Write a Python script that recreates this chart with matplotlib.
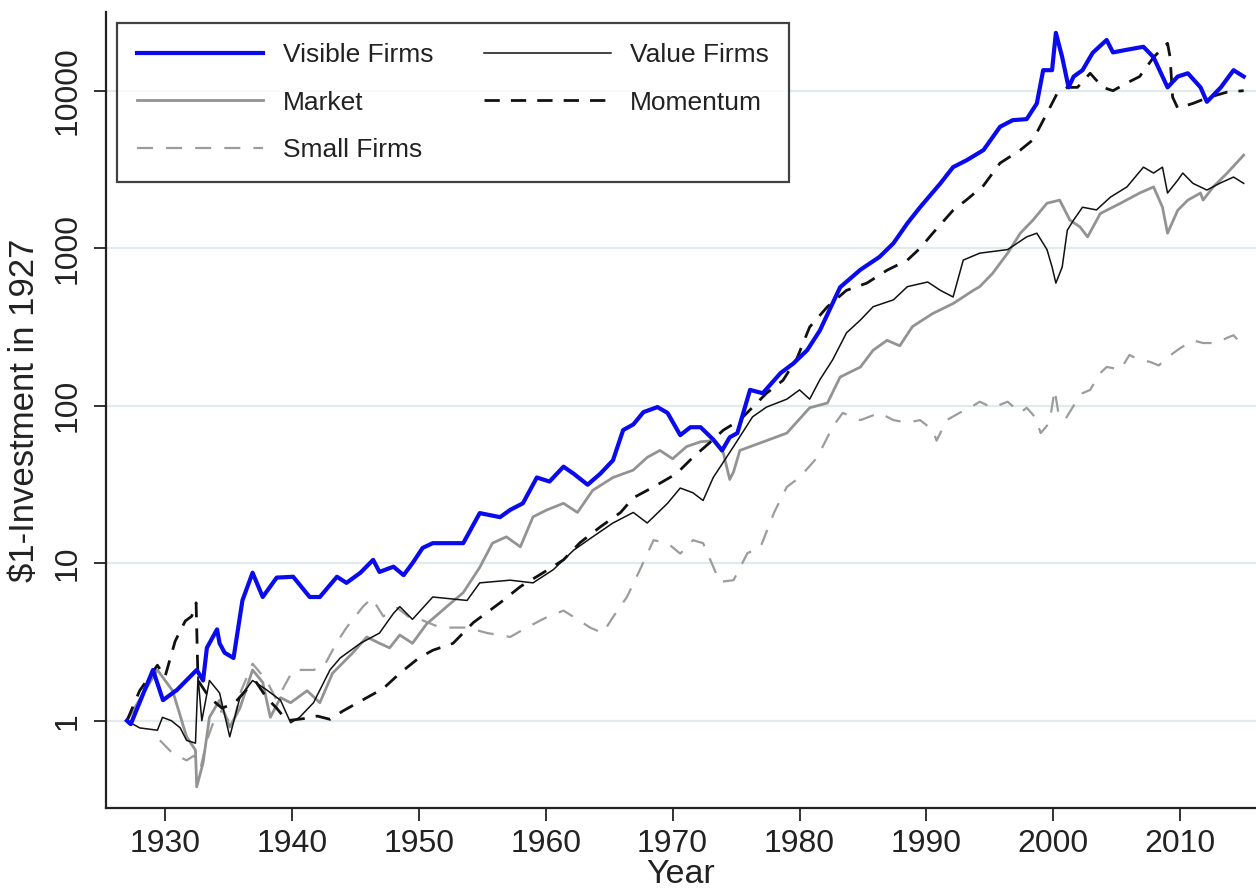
import matplotlib
matplotlib.use("Agg")
import matplotlib.pyplot as plt
import numpy as np

plt.rcParams['font.family'] = ['Liberation Sans', 'DejaVu Sans']

# ---------------- data ----------------
visible_years = [1927.0, 1927.3, 1929.05, 1929.84, 1930.95, 1932.5, 1933.0, 1933.3, 1934.1, 1934.3,
                 1934.7, 1935.4, 1936.1, 1936.9, 1937.7, 1938.8, 1940.1, 1941.4, 1942.2, 1943.55,
                 1944.3, 1945.4, 1946.4, 1946.9, 1948.0, 1948.8, 1949.5, 1950.3, 1951.1, 1952.5,
                 1953.5, 1954.8, 1956.4, 1957.2, 1958.2, 1959.3, 1960.3, 1961.4, 1962.2, 1963.3,
                 1964.3, 1965.3, 1966.1, 1966.9, 1967.7, 1968.8, 1969.6, 1970.6, 1971.4, 1972.2,
                 1973.2, 1973.9, 1974.5, 1975.1, 1976.1, 1977.1, 1978.5, 1979.5, 1980.6, 1981.6,
                 1983.2, 1984.8, 1986.3, 1987.4, 1988.5, 1989.5, 1991.1, 1992.1, 1993.2, 1994.5,
                 1995.8, 1996.8, 1997.9, 1998.7, 1999.2, 1999.9, 2000.2, 2000.7, 2001.2, 2001.6,
                 2002.3, 2003.1, 2004.2, 2004.7, 2005.8, 2007.1, 2007.9, 2009.0, 2009.8, 2010.6,
                 2011.6, 2012.1, 2013.2, 2014.2, 2015.0]
visible_vals = [1.0, 0.95, 2.1, 1.35, 1.57, 2.1, 1.8, 2.9, 3.8, 3.1,
                2.7, 2.5, 5.8, 8.7, 6.1, 8.1, 8.2, 6.1, 6.1, 8.2,
                7.5, 8.7, 10.5, 8.8, 9.5, 8.4, 10.0, 12.5, 13.4, 13.4,
                13.4, 20.8, 19.6, 21.8, 24, 35, 33, 41, 37, 31.5,
                37, 45, 70, 76, 91, 98, 90, 65, 73, 73,
                61, 52, 63, 67, 126, 120, 161, 185, 225, 300,
                565, 730, 880, 1075, 1440, 1820, 2580, 3270, 3630, 4200,
                5900, 6500, 6600, 8300, 13500, 13500, 23300, 16300, 10500, 12300,
                13500, 17400, 21000, 17500, 18200, 19000, 16300, 10500, 12300, 12900,
                10500, 8500, 10500, 13500, 12300]

market_years = [1927.0, 1929.4, 1930.6, 1931.7, 1932.4, 1932.5, 1933.0, 1933.5, 1934.3, 1935.1,
                1935.9, 1936.9, 1937.7, 1938.3, 1939.1, 1939.9, 1941.2, 1942.2, 1943.2, 1944.8,
                1945.9, 1946.9, 1947.7, 1948.5, 1949.5, 1950.6, 1952.2, 1953.5, 1954.8, 1955.8,
                1956.9, 1958.0, 1959.0, 1960.1, 1961.4, 1962.5, 1963.7, 1965.3, 1966.9, 1968.0,
                1969.0, 1970.0, 1971.1, 1972.2, 1973.2, 1974.0, 1974.5, 1974.8, 1975.3, 1977.4,
                1979.0, 1980.8, 1982.2, 1983.2, 1984.8, 1985.8, 1986.9, 1987.9, 1988.9, 1990.5,
                1992.1, 1993.7, 1994.2, 1995.2, 1996.4, 1997.4, 1998.4, 1999.5, 2000.5, 2001.3,
                2002.1, 2002.7, 2003.7, 2005.3, 2006.8, 2007.9, 2008.6, 2009.0, 2009.8, 2010.6,
                2011.6, 2011.8, 2012.6, 2013.7, 2015.0]
market_vals = [1.0, 2.1, 1.55, 0.79, 0.65, 0.38, 0.54, 1.05, 1.35, 0.91,
               1.2, 2.1, 1.75, 1.05, 1.4, 1.3, 1.55, 1.3, 2.0, 2.7,
               3.4, 3.1, 2.9, 3.5, 3.1, 4.1, 5.3, 6.5, 9.4, 13.4,
               14.7, 12.7, 19.7, 21.8, 24, 21, 29, 35, 39, 47,
               52, 46, 55, 59, 60, 50, 34, 38, 52, 60,
               67, 97, 104, 152, 176, 225, 260, 240, 318, 385,
               445, 540, 570, 690, 930, 1245, 1510, 1930, 2020, 1510,
               1365, 1180, 1660, 1930, 2240, 2450, 1820, 1245, 1740, 2020,
               2240, 2020, 2450, 3000, 3900]

small_years = [1929.6, 1930.6, 1931.7, 1932.3, 1932.8, 1933.3, 1933.8, 1934.5, 1935.3, 1936.0,
               1936.9, 1938.0, 1938.8, 1940.1, 1941.7, 1942.5, 1943.5, 1944.3, 1945.6, 1946.3,
               1947.2, 1948.3, 1949.3, 1950.1, 1951.7, 1953.8, 1955.4, 1957.2, 1958.5, 1960.1,
               1961.4, 1962.5, 1963.5, 1964.5, 1965.3, 1966.4, 1967.4, 1968.5, 1969.6, 1970.6,
               1971.6, 1972.4, 1973.2, 1973.7, 1974.8, 1975.9, 1976.9, 1978.0, 1979.0, 1980.0,
               1981.4, 1982.6, 1983.4, 1984.8, 1986.3, 1987.4, 1988.5, 1989.5, 1990.5, 1990.8,
               1991.6, 1992.6, 1993.7, 1994.2, 1995.2, 1996.4, 1997.4, 1997.9, 1998.6, 1999.0,
               1999.7, 2000.1, 2000.4, 2000.9, 2001.6, 2002.3, 2002.9, 2003.7, 2004.2, 2005.3,
               2006.0, 2006.8, 2007.6, 2008.3, 2009.0, 2010.0, 2011.0, 2011.8, 2012.9, 2013.7,
               2014.2, 2014.9]
small_vals = [0.75, 0.62, 0.56, 0.6, 0.5, 0.75, 0.97, 1.17, 0.91, 1.55,
              2.3, 1.8, 1.35, 2.1, 2.1, 2.2, 3.1, 3.9, 5.3, 6.0,
              4.6, 5.2, 4.5, 4.4, 3.9, 3.9, 3.6, 3.4, 3.9, 4.55,
              5.0, 4.4, 3.9, 3.6, 4.55, 6.1, 9.0, 14, 13.4, 11.5,
              14, 13.4, 9.5, 7.6, 7.8, 11.6, 12.5, 21, 30.5, 35,
              47, 73, 90, 81, 90, 81, 78, 81, 70, 60,
              81, 90, 100, 106, 97, 106, 90, 97, 84, 67,
              78, 126, 90, 81, 100, 120, 126, 161, 176, 170,
              210, 195, 190, 180, 203, 232, 260, 250, 250, 270,
              280, 243]

value_years = [1927.0, 1928.0, 1929.4, 1929.8, 1930.5, 1931.2, 1931.7, 1932.4, 1932.6, 1932.9,
               1933.5, 1934.3, 1935.1, 1935.9, 1936.9, 1938.0, 1939.1, 1939.9, 1940.6, 1941.7,
               1943.0, 1943.8, 1945.4, 1946.9, 1948.0, 1948.5, 1949.5, 1951.1, 1953.8, 1954.8,
               1957.2, 1959.0, 1960.6, 1962.2, 1963.7, 1965.3, 1966.9, 1968.0, 1969.6, 1970.6,
               1971.6, 1972.4, 1973.2, 1974.8, 1976.3, 1977.4, 1979.0, 1980.0, 1980.8, 1981.6,
               1982.6, 1983.7, 1984.8, 1985.8, 1987.4, 1988.5, 1990.1, 1991.1, 1992.1, 1992.9,
               1994.2, 1996.4, 1997.9, 1998.7, 1999.5, 1999.9, 2000.2, 2000.7, 2001.1, 2001.6,
               2002.3, 2003.4, 2004.5, 2005.8, 2007.1, 2007.9, 2008.6, 2009.0, 2009.8, 2010.2,
               2011.0, 2012.1, 2013.1, 2014.2, 2015.0]
value_vals = [1.0, 0.9, 0.87, 1.05, 1.0, 0.9, 0.75, 0.72, 1.9, 1.0,
              1.8, 1.5, 0.79, 1.4, 1.8, 1.57, 1.35, 0.97, 1.05, 1.3,
              2.1, 2.5, 3.1, 3.6, 4.8, 5.3, 4.4, 6.1, 5.8, 7.5,
              7.8, 7.5, 9.1, 12.1, 14.7, 18, 21, 18, 24, 30,
              28, 25, 35, 55, 85, 98, 110, 126, 110, 146,
              195, 290, 350, 425, 470, 570, 610, 540, 490, 840,
              930, 980, 1180, 1245, 980, 760, 600, 760, 1300, 1510,
              1820, 1750, 2110, 2450, 3270, 3000, 3270, 2240, 2700, 3000,
              2580, 2340, 2580, 2830, 2580]

momentum_years = [1927.0, 1928.0, 1929.4, 1930.0, 1930.8, 1931.6, 1932.1, 1932.45, 1932.6, 1933.5,
                  1934.5, 1935.5, 1936.5, 1937.2, 1938.0, 1938.8, 1939.6, 1940.9, 1942.0, 1943.0,
                  1944.0, 1945.9, 1947.2, 1948.5, 1950.0, 1951.1, 1952.7, 1954.3, 1956.4, 1958.0,
                  1959.8, 1961.4, 1962.7, 1964.3, 1965.9, 1966.9, 1968.5, 1970.3, 1971.6, 1972.9,
                  1974.0, 1975.3, 1977.4, 1978.7, 1979.8, 1980.8, 1982.2, 1983.7, 1985.3, 1986.9,
                  1988.5, 1989.5, 1990.5, 1992.1, 1993.2, 1994.5, 1995.8, 1997.4, 1998.4, 1999.5,
                  2000.3, 2001.1, 2001.9, 2002.9, 2003.9, 2004.7, 2005.8, 2006.8, 2007.9, 2009.0,
                  2009.2, 2009.4, 2009.8, 2011.0, 2012.1, 2013.7, 2015.0]
momentum_vals = [1.0, 1.55, 2.25, 1.9, 3.2, 4.3, 4.6, 5.6, 1.8, 1.4,
                 1.2, 1.3, 1.6, 1.75, 1.4, 1.2, 1.0, 1.03, 1.07, 1.02,
                 1.15, 1.4, 1.6, 2.0, 2.5, 2.8, 3.1, 4.2, 5.6, 7.1,
                 8.7, 10.5, 13.5, 17, 21, 26, 30.5, 37, 47, 58,
                 70, 81, 120, 145, 200, 316, 425, 540, 600, 725,
                 840, 1000, 1245, 1740, 2040, 2500, 3470, 4200, 4880, 7200,
                 9600, 10500, 10500, 12900, 10500, 10000, 11200, 12300, 16300, 20000,
                 16300, 9100, 7750, 8300, 9000, 9800, 10000]

x_ticks = [1930, 1940, 1950, 1960, 1970, 1980, 1990, 2000, 2010]
y_ticks = [1, 10, 100, 1000, 10000]
y_ticklabels = ["1", "10", "100", "1000", "10000"]

# ---------------- figure ----------------
fig = plt.figure(figsize=(12.56, 8.90), dpi=100)
ax = fig.add_axes([106 / 1256, 1 - 808 / 890, 1 - 106 / 1256, (808 - 12) / 890])

ax.set_yscale('log')
ax.set_xlim(1925.35, 2015.97)
ax.set_ylim(0.279, 31600)

for yv in y_ticks:
    ax.axhline(yv, color='#e1eaec', lw=1.6, zorder=0)

l_vis, = ax.plot(visible_years, visible_vals, color='#0a0aee', lw=3.0, label='Visible Firms', zorder=6)
l_mkt, = ax.plot(market_years, market_vals, color='#939393', lw=2.0, label='Market', zorder=3)
l_sml, = ax.plot(small_years, small_vals, color='#9c9c9c', lw=1.6,
                 linestyle=(0, (7.2, 5.9)), label='Small Firms', zorder=2)
l_val, = ax.plot(value_years, value_vals, color='#111111', lw=1.1, label='Value Firms', zorder=4)
l_mom, = ax.plot(momentum_years, momentum_vals, color='#111111', lw=2.0,
                 linestyle=(0, (5.5, 4.0)), label='Momentum', zorder=5)

ax.set_xticks(x_ticks)
ax.set_xticklabels([str(t) for t in x_ticks])
ax.set_yticks(y_ticks)
ax.set_yticklabels(y_ticklabels, rotation=90, va='center')
ax.yaxis.set_minor_locator(matplotlib.ticker.NullLocator())

ax.tick_params(axis='both', which='major', direction='out', length=9, width=1.3,
               labelsize=23, colors='#222222', labelcolor='#222222')
ax.tick_params(axis='x', pad=6)
ax.tick_params(axis='y', pad=8)

for side in ['top', 'right']:
    ax.spines[side].set_visible(False)
for side in ['left', 'bottom']:
    ax.spines[side].set_linewidth(1.6)
    ax.spines[side].set_color('#222222')

ax.set_xlabel('Year', fontsize=24.5, color='#222222', labelpad=0)
ax.set_ylabel('$1-Investment in 1927', fontsize=25, color='#222222', labelpad=8)

leg = ax.legend(handles=[l_vis, l_mkt, l_sml, l_val, l_mom], ncol=2,
                loc='upper left', bbox_to_anchor=((117 - 106) / 1150, (808 - 23) / 796),
                fontsize=19, frameon=True, fancybox=False, shadow=False,
                handlelength=4.8, handletextpad=0.75, columnspacing=1.9,
                labelspacing=0.9, borderpad=0.75, borderaxespad=0.0)
leg.get_frame().set_edgecolor('#111111')
leg.get_frame().set_linewidth(1.6)
for t in leg.get_texts():
    t.set_color('#222222')

fig.savefig('out.png', dpi=100, facecolor='white')
